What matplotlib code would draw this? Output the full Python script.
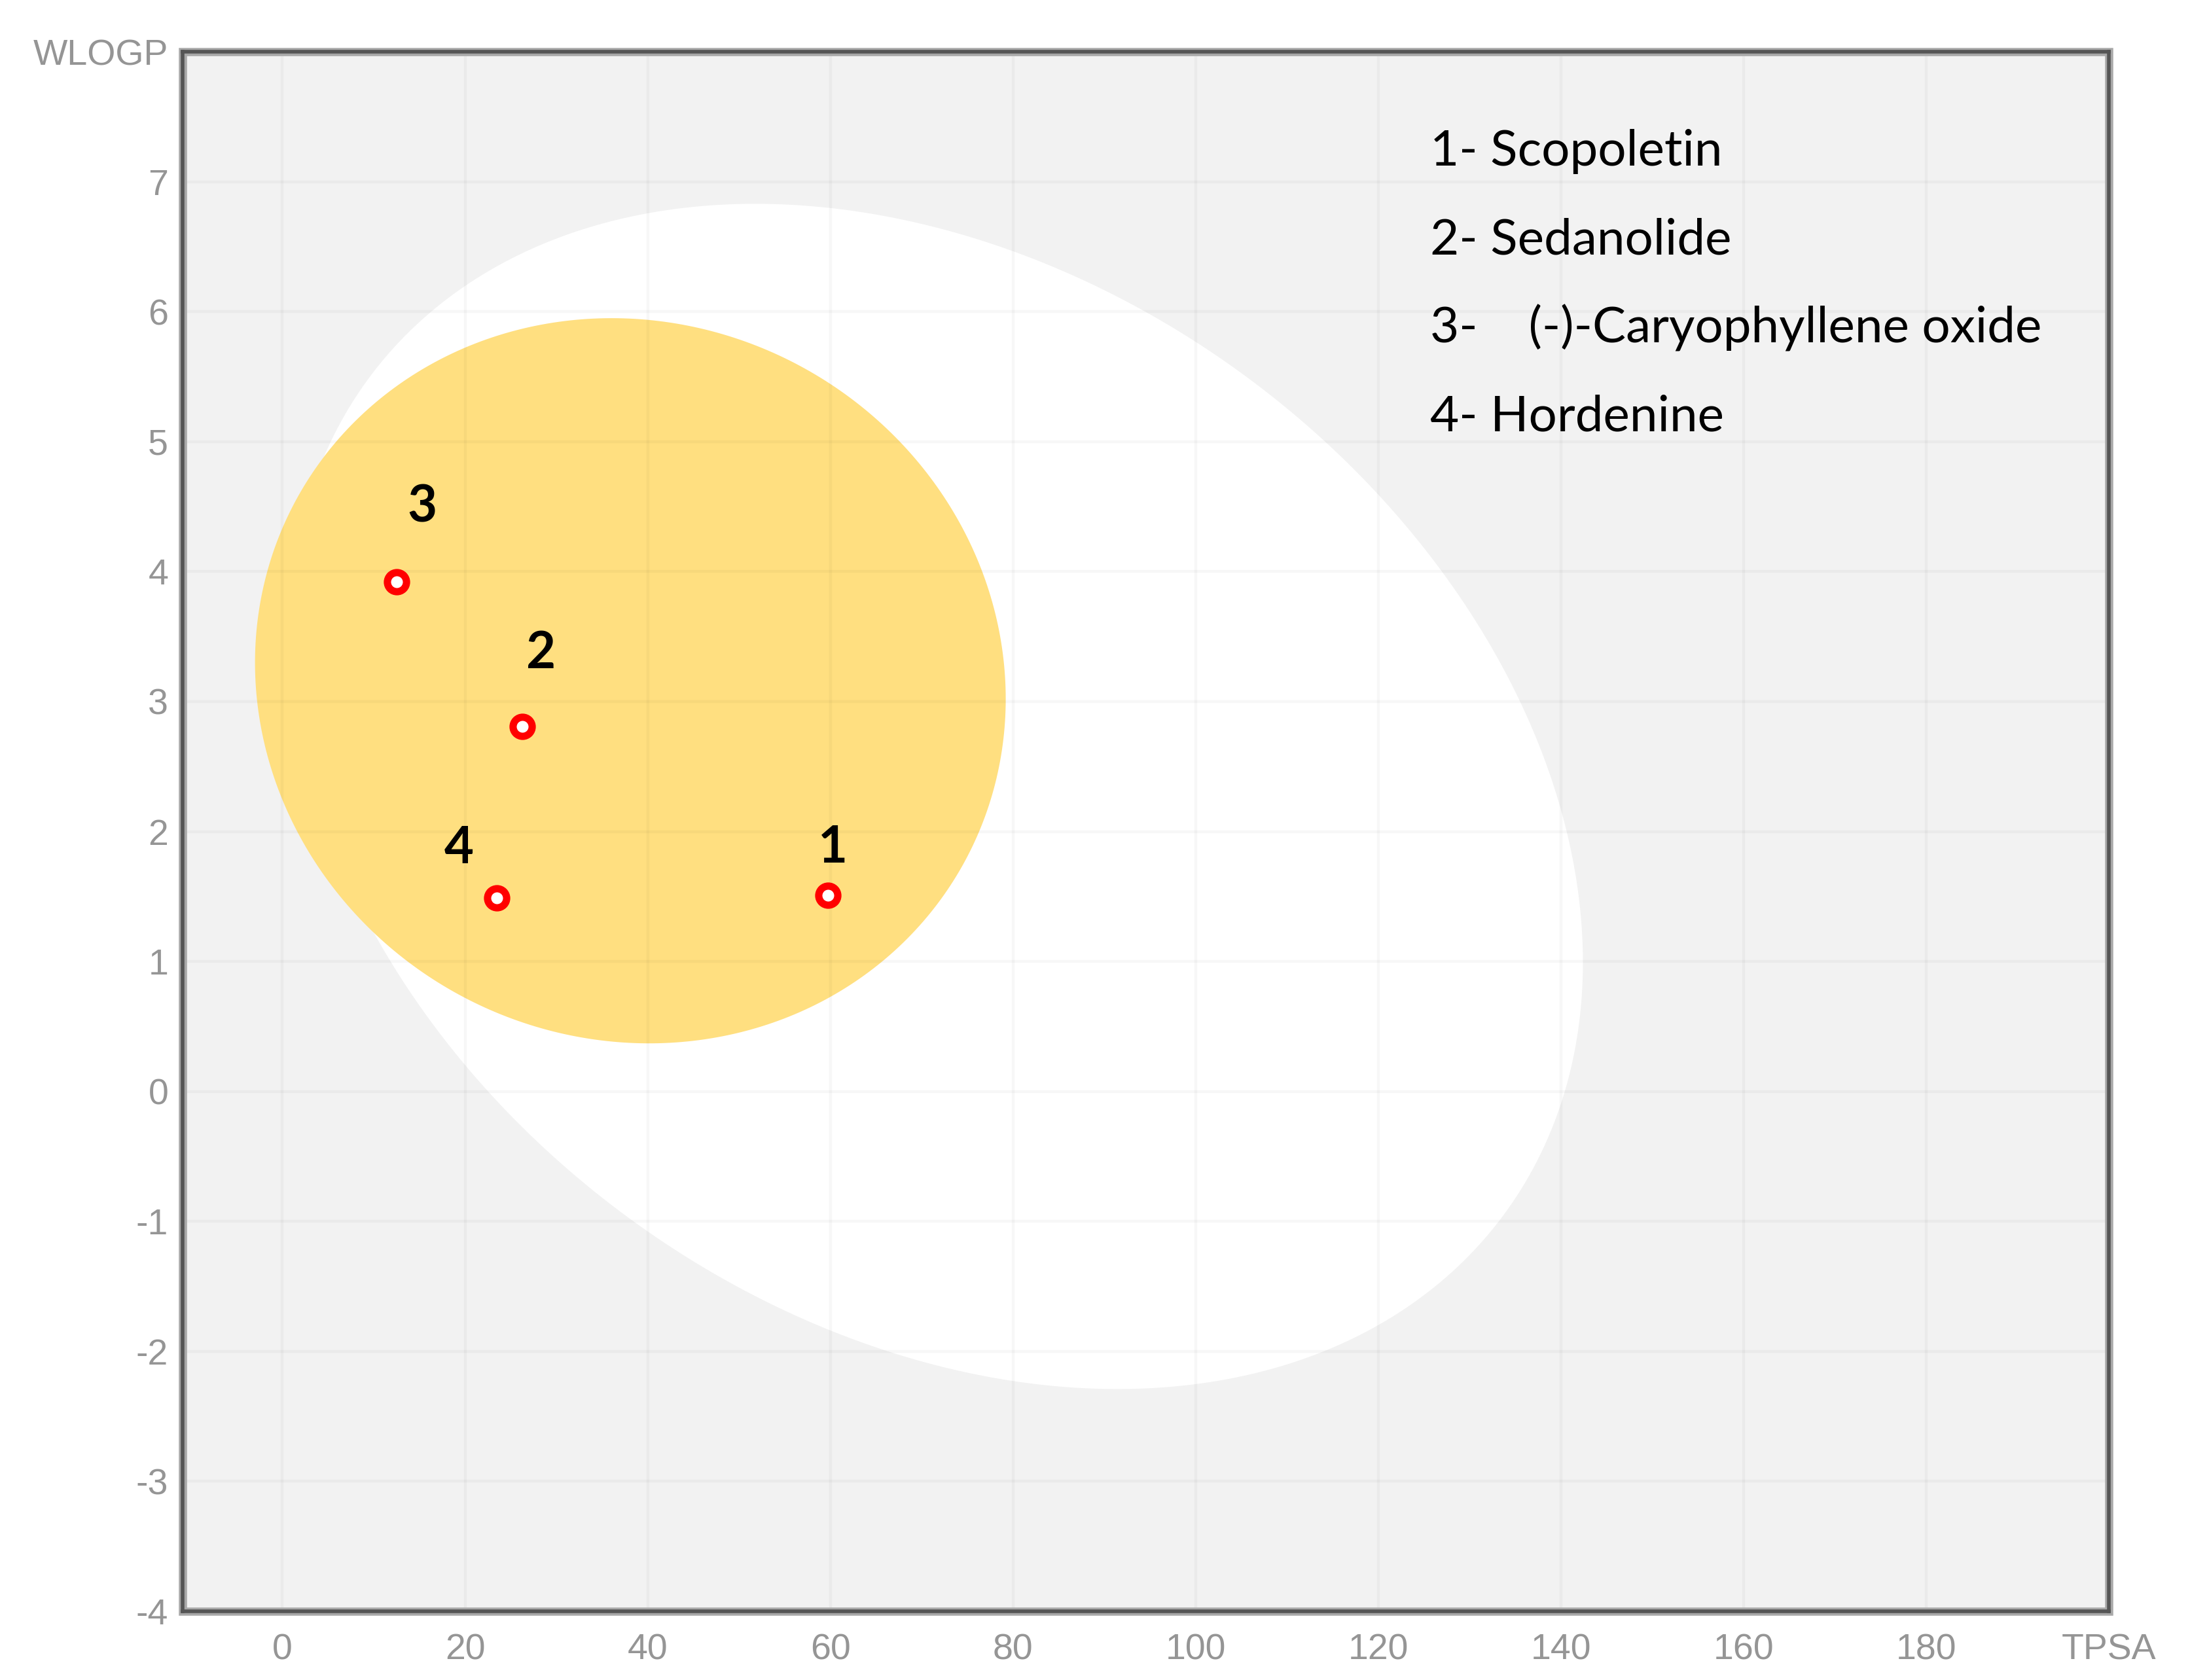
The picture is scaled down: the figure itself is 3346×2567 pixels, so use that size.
import numpy as np
import matplotlib.pyplot as plt
from matplotlib.patches import Rectangle

# ------------------------------------------------------
# DATA (BOILED-Egg: TPSA x WLOGP)
# ------------------------------------------------------
TPSA = [59.7, 26.3, 12.5, 23.5]
WLOGP = [1.51, 2.81, 3.92, 1.49]
POINT_IDS = ["1", "2", "3", "4"]

LEGEND_LABELS = ["1- Scopoletin",
                 "2- Sedanolide",
                 "3-    (-)-Caryophyllene oxide",
                 "4- Hordenine"]

# ellipses: centre, half-width (TPSA), half-height (WLOGP), correlation
HIA_EGG = dict(cx=71.6, cy=2.27, sx=70.8, sy=4.56, rho=-0.28)   # white
BBB_EGG = dict(cx=38.1, cy=3.16, sx=41.1, sy=2.79, rho=-0.05)   # yolk

X_TICKS = [0, 20, 40, 60, 80, 100, 120, 140, 160, 180, 200]
X_TICK_LABELS = ["0", "20", "40", "60", "80", "100", "120", "140", "160", "180", "TPSA"]
Y_TICKS = [-4, -3, -2, -1, 0, 1, 2, 3, 4, 5, 6, 7, 8]
Y_TICK_LABELS = ["-4", "-3", "-2", "-1", "0", "1", "2", "3", "4", "5", "6", "7", "WLOGP"]

# ------------------------------------------------------
# STYLE
# ------------------------------------------------------
BG = "#f2f2f2"
WHITE_COLOR = "#ffffff"
YOLK_COLOR = "#ffdf80"
TICK_COLOR = "#959595"
POINT_COLOR = "#ff0000"
LABEL_OFFSETS = [(3, 26), (10, 40), (14, 41), (-21, 27)]  # points


def egg_outline(cx, cy, sx, sy, rho, n=400):
    t = np.linspace(0, 2 * np.pi, n)
    x = cx + sx * np.cos(t)
    y = cy + sy * (rho * np.cos(t) + np.sqrt(1 - rho ** 2) * np.sin(t))
    return x, y


def main():
    fig = plt.figure(figsize=(16.73, 12.835), dpi=200)
    ax = fig.add_axes([0.0835, 0.0409, 0.8795, 0.9283])
    ax.set_facecolor(BG)

    x, y = egg_outline(**HIA_EGG)
    ax.fill(x, y, color=WHITE_COLOR, lw=0, zorder=1)
    x, y = egg_outline(**BBB_EGG)
    ax.fill(x, y, color=YOLK_COLOR, lw=0, zorder=2)

    ax.set_xlim(-10.9, 200)
    ax.set_ylim(-4, 8)
    ax.set_xticks(X_TICKS)
    ax.set_xticklabels(X_TICK_LABELS)
    ax.set_yticks(Y_TICKS)
    ax.set_yticklabels(Y_TICK_LABELS)
    ax.tick_params(length=0, labelsize=20, labelcolor=TICK_COLOR)
    ax.tick_params(axis="x", pad=12)
    ax.tick_params(axis="y", pad=8)
    for lab in ax.get_xticklabels() + ax.get_yticklabels():
        lab.set_fontfamily("Liberation Sans")

    ax.grid(True, color="black", alpha=0.03, lw=1.6, zorder=3)
    ax.set_axisbelow(False)

    ax.plot(TPSA, WLOGP, "o", ms=10.5, mfc="white", mec=POINT_COLOR,
            mew=4, zorder=6)
    for px, py, pid, off in zip(TPSA, WLOGP, POINT_IDS, LABEL_OFFSETS):
        ax.annotate(pid, (px, py), xytext=off, textcoords="offset points",
                    ha="center", va="center", fontsize=28,
                    fontweight="bold", family="Lato", color="black", zorder=7)

    for i, txt in enumerate(LEGEND_LABELS):
        ax.text(0.6475, 0.927 - i * 0.0567, txt, transform=ax.transAxes,
                ha="left", va="baseline", fontsize=27.5, family="Lato",
                color="black", zorder=7)

    # bevelled frame
    ax.add_patch(Rectangle((0, 0), 1, 1, transform=ax.transAxes, fill=False,
                           edgecolor="#a8a8a8", lw=4.5, zorder=8,
                           clip_on=False))
    for sp in ax.spines.values():
        sp.set_color("#555555")
        sp.set_linewidth(2.0)
        sp.set_zorder(9)

    fig.savefig("out.png", dpi=200, facecolor="white")
    plt.close(fig)


if __name__ == "__main__":
    main()
